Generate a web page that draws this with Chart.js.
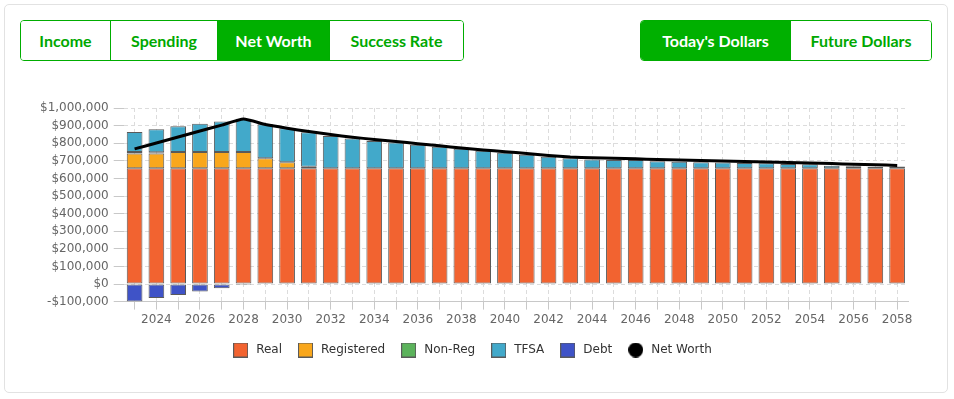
<!DOCTYPE html>
<html lang="en">
<head>
    <meta charset="UTF-8">
    <title>Net Worth</title>
    <script src="https://cdn.jsdelivr.net/npm/chart.js"></script>
    <style>
        body { margin: 0; background: #fff; font-family: "Lato", sans-serif; }
        .card {
            position: absolute; left: 4px; top: 4px; width: 942px; height: 387px;
            border: 1px solid #e2e2e2; border-radius: 5px; background: #fff;
        }
        .group {
            position: absolute; top: 20px; height: 39px; display: flex;
            border: 1px solid #00ad00; border-radius: 4px; overflow: hidden;
        }
        .group div {
            height: 39px; line-height: 39px; text-align: center;
            font-weight: 700; font-size: 16px; color: #00a800; background: #fff;
        }
        .group div + div { border-left: 1px solid #00ad00; }
        .group div.on { background: #00b000; color: #fff; }
        #wrap { position: absolute; left: 20px; top: 80px; width: 914px; height: 290px; }
    </style>
</head>
<body>
    <div class="card"></div>
    <div class="group" style="left:20px">
        <div style="width:89px">Income</div>
        <div style="width:106px">Spending</div>
        <div class="on" style="width:111px">Net Worth</div>
        <div style="width:133px">Success Rate</div>
    </div>
    <div class="group" style="left:640px">
        <div class="on" style="width:149px">Today's Dollars</div>
        <div style="width:140px">Future Dollars</div>
    </div>
    <div id="wrap"><canvas id="grafico"></canvas></div>

    <script>
        const years = [2023, 2024, 2025, 2026, 2027, 2028, 2029, 2030, 2031, 2032, 2033, 2034,
                       2035, 2036, 2037, 2038, 2039, 2040, 2041, 2042, 2043, 2044, 2045, 2046,
                       2047, 2048, 2049, 2050, 2051, 2052, 2053, 2054, 2055, 2056, 2057, 2058];

        const real = [658000, 658000, 658000, 658000, 658000, 658000, 658000, 658000, 658000,
                      658000, 658000, 658000, 658000, 658000, 658000, 658000, 658000, 658000,
                      658000, 658000, 658000, 658000, 658000, 658000, 658000, 658000, 658000,
                      658000, 658000, 658000, 658000, 658000, 658000, 658000, 658000, 658000];
        const registered = [84000, 84000, 92000, 92000, 92000, 92000, 56000, 34000, 8000,
                            0, 0, 0, 0, 0, 0, 0, 0, 0, 0, 0, 0, 0, 0, 0, 0, 0, 0,
                            0, 0, 0, 0, 0, 0, 0, 0, 0];
        const nonReg = [8000, 7000, 0, 0, 0, 0, 0, 0, 0, 0, 0, 0, 0, 0, 0, 0, 0, 0,
                        0, 0, 0, 0, 0, 0, 0, 0, 0, 0, 0, 0, 0, 0, 0, 0, 0, 0];
        const tfsa = [113000, 130000, 146000, 161000, 173000, 189000, 193000, 193000, 196000,
                      183000, 168000, 155000, 146000, 133000, 122000, 110000, 99000, 88000,
                      77000, 65000, 56000, 50000, 47000, 47000, 39000, 37000, 34000,
                      32000, 30000, 28000, 24000, 22000, 14000, 11000, 8000, 10000];
        const debt = [-99000, -80000, -63000, -43000, -24000, -6000, 0, 0, 0, 0, 0, 0,
                      0, 0, 0, 0, 0, 0, 0, 0, 0, 0, 0, 0, 0, 0, 0, 0, 0, 0, 0, 0, 0, 0, 0, 0];
        const netWorth = [768000, 801000, 835000, 869000, 903000, 937000, 906000, 885000, 866000,
                          849000, 834000, 821000, 810000, 797000, 785000, 773000, 762000, 752000,
                          741000, 730000, 721000, 717000, 714000, 711000, 708000, 705000, 702000,
                          699000, 696000, 693000, 690000, 687000, 684000, 680000, 677000, 674000];

        const yMin = -100000, yMax = 1000000, yStep = 100000;

        const colori = {
            real: '#f26330', registered: '#f9a71c', nonReg: '#5cb35c',
            tfsa: '#42a9ca', debt: '#3f53c7', bordo: '#5a5a5a'
        };

        // Legend icons drawn as small canvases (square boxes and a round dot)
        function icona(fill, round) {
            const c = document.createElement('canvas');
            c.width = 15; c.height = 15;
            const g = c.getContext('2d');
            if (round) {
                g.fillStyle = '#000';
                g.beginPath(); g.arc(7.5, 7.5, 7.5, 0, Math.PI * 2); g.fill();
            } else {
                g.fillStyle = fill; g.fillRect(0, 0, 15, 15);
                g.strokeStyle = colori.bordo; g.lineWidth = 1; g.strokeRect(0.5, 0.5, 14, 14);
            }
            return c;
        }
        const icone = [icona(colori.real), icona(colori.registered), icona(colori.nonReg),
                       icona(colori.tfsa), icona(colori.debt), icona(null, true)];

        function barra(label, data, colore) {
            return {
                type: 'bar', label: label, data: data, order: 1,
                backgroundColor: colore, borderColor: colori.bordo,
                borderWidth: 1, borderSkipped: false, stack: 'a'
            };
        }

        const ctx = document.getElementById('grafico').getContext('2d');
        new Chart(ctx, {
            data: {
                labels: years,
                datasets: [
                    barra('Real', real, colori.real),
                    barra('Registered', registered, colori.registered),
                    barra('Non-Reg', nonReg, colori.nonReg),
                    barra('TFSA', tfsa, colori.tfsa),
                    barra('Debt', debt, colori.debt),
                    {
                        type: 'line', label: 'Net Worth', data: netWorth, order: 0,
                        borderColor: '#000', backgroundColor: '#000', borderWidth: 3,
                        pointRadius: 0, tension: 0.15
                    }
                ]
            },
            options: {
                responsive: true,
                maintainAspectRatio: false,
                animation: false,
                layout: { padding: { top: 28, left: 15, right: 26, bottom: 4 } },
                plugins: {
                    tooltip: { enabled: false },
                    legend: {
                        position: 'bottom',
                        labels: {
                            usePointStyle: true,
                            pointStyleWidth: 19,
                            boxHeight: 12,
                            padding: 14,
                            color: '#333',
                            font: { family: 'DejaVu Sans', size: 12 },
                            sort: (a, b) => a.datasetIndex - b.datasetIndex,
                            generateLabels: (chart) => {
                                const items = Chart.defaults.plugins.legend.labels.generateLabels(chart);
                                items.forEach(it => { it.pointStyle = icone[it.datasetIndex]; });
                                return items;
                            }
                        }
                    }
                },
                scales: {
                    x: {
                        stacked: true,
                        grid: { offset: false, color: '#dcdcdc', tickColor: '#c8c8c8', tickLength: 8 },
                        border: { color: '#c8c8c8', dash: [4, 3] },
                        ticks: {
                            autoSkip: false, maxRotation: 0, color: '#666',
                            font: { family: 'DejaVu Sans', size: 12 },
                            callback: function (v, i) { return i % 2 === 1 ? years[i] : ''; }
                        }
                    },
                    y: {
                        stacked: true,
                        min: yMin, max: yMax,
                        grid: { color: '#dcdcdc', tickColor: '#c8c8c8', tickLength: 10 },
                        border: { display: false, dash: [4, 3] },
                        ticks: {
                            stepSize: yStep, padding: 5, color: '#666',
                            font: { family: 'DejaVu Sans', size: 12 },
                            callback: (v) => (v < 0 ? '-' : '') + '$' + Math.abs(v).toLocaleString('en-US')
                        }
                    }
                }
            }
        });
    </script>
</body>
</html>
